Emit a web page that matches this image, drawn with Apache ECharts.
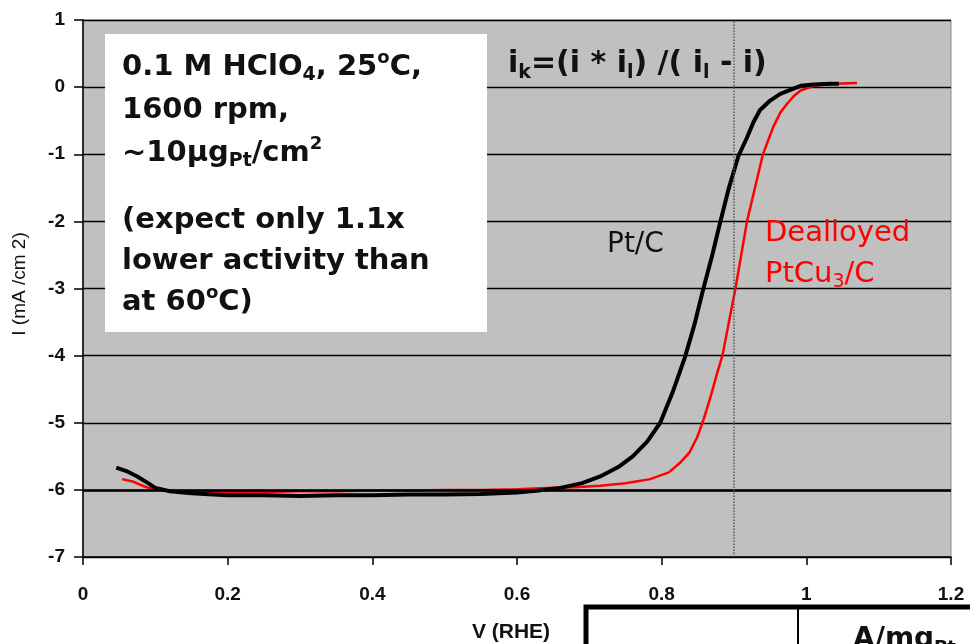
<!DOCTYPE html>
<html><head><meta charset="utf-8">
<script src="https://cdn.jsdelivr.net/npm/echarts@6/dist/echarts.min.js"></script>
<style>html,body{margin:0;padding:0;background:#fff}#c{width:970px;height:644px}</style>
</head><body><div id="c"></div>
<script>
// ---- data ----
const xTicks = [0, 0.2, 0.4, 0.6, 0.8, 1, 1.2];
const yTicks = [1, 0, -1, -2, -3, -4, -5, -6, -7];
const seriesNames = ['Pt/C', 'Dealloyed PtCu3/C'];
// Pt/C (black)
const ptcV = [0.046,0.06,0.075,0.09,0.10,0.12,0.15,0.18,0.2,0.25,0.3,0.35,0.4,0.45,0.5,0.55,0.6,0.63,0.66,0.69,0.715,0.74,0.76,0.78,0.798,0.815,0.832,0.845,0.857,0.87,0.881,0.893,0.906,0.918,0.927,0.936,0.95,0.964,0.978,0.992,1.01,1.033,1.045];
const ptcI = [-5.67,-5.72,-5.8,-5.9,-5.97,-6.02,-6.05,-6.07,-6.08,-6.08,-6.09,-6.08,-6.08,-6.07,-6.07,-6.06,-6.04,-6.01,-5.97,-5.9,-5.8,-5.66,-5.5,-5.28,-5.0,-4.55,-4.03,-3.55,-3.03,-2.5,-2.01,-1.5,-1.03,-0.75,-0.52,-0.34,-0.2,-0.1,-0.04,0.02,0.04,0.05,0.05];
// Dealloyed PtCu3/C (red)
const cuV = [0.054,0.07,0.085,0.1,0.13,0.16,0.2,0.25,0.3,0.35,0.4,0.45,0.5,0.55,0.6,0.65,0.68,0.715,0.75,0.784,0.81,0.825,0.838,0.849,0.858,0.868,0.877,0.884,0.893,0.902,0.91,0.918,0.929,0.94,0.954,0.964,0.974,0.984,0.992,1.01,1.04,1.07];
const cuI = [-5.84,-5.88,-5.95,-6.0,-6.02,-6.03,-6.04,-6.03,-6.02,-6.02,-6.01,-6.01,-6.0,-6.0,-5.99,-5.97,-5.96,-5.94,-5.9,-5.84,-5.74,-5.6,-5.45,-5.22,-4.95,-4.6,-4.25,-4.0,-3.5,-3.0,-2.5,-2.0,-1.5,-1.0,-0.6,-0.38,-0.24,-0.12,-0.05,0.02,0.05,0.06];
const refV = 0.9;
const limitI = -6;

// ---- helpers ----
const mctx = document.createElement('canvas').getContext('2d');
function runLine(x, y, parts, family, weight, color) {
  const els = [];
  let cx = x;
  parts.forEach(p => {
    const size = p[1], dy = p[2] || 0;
    const font = weight + ' ' + size + 'px "' + family + '"';
    mctx.font = font;
    els.push({type: 'text', x: cx, y: y + dy, z: 110,
      style: {text: p[0], font: font, fill: color, textAlign: 'left', textVerticalAlign: 'middle', verticalAlign: 'middle'}});
    cx += mctx.measureText(p[0]).width;
  });
  return els;
}
const BF = 'DejaVu Sans';
const graphics = [
  {type: 'rect', z: 100, shape: {x: 105, y: 34, width: 382, height: 298}, style: {fill: '#fff'}},
  ...runLine(122, 67, [['0.1 M HClO', 29], ['4', 19, 8], [', 25', 29], ['o', 18, -9], ['C,', 29]], BF, 'bold', '#111'),
  ...runLine(122, 110, [['1600 rpm,', 29]], BF, 'bold', '#111'),
  ...runLine(122, 153, [['~10\u00b5g', 29], ['Pt', 19, 8], ['/cm', 29], ['2', 18, -9]], BF, 'bold', '#111'),
  ...runLine(122, 220, [['(expect only 1.1x', 29]], BF, 'bold', '#111'),
  ...runLine(122, 261, [['lower activity than', 29]], BF, 'bold', '#111'),
  ...runLine(122, 302, [['at 60', 29], ['o', 18, -9], ['C)', 29]], BF, 'bold', '#111'),
  ...runLine(508, 64, [['i', 30], ['k', 19, 9], ['=(i * i', 30], ['l', 19, 9], [') /( i', 30], ['l', 19, 9], [' - i)', 30]], BF, 'bold', '#111'),
  ...runLine(607, 245, [['Pt/C', 28]], BF, 'normal', '#111'),
  ...runLine(765, 233, [['Dealloyed', 29]], BF, 'normal', '#ff0000'),
  ...runLine(765, 274, [['PtCu', 29], ['3', 19, 8], ['/C', 29]], BF, 'normal', '#ff0000'),
  {type: 'text', z: 110, x: 511, y: 632, style: {text: 'V (RHE)', font: 'bold 21px "Liberation Sans"', fill: '#111', textAlign: 'center', textVerticalAlign: 'middle', verticalAlign: 'middle', align: 'center'}},
  {type: 'text', z: 110, x: 20, y: 284, rotation: Math.PI / 2, style: {text: 'I (mA /cm 2)', font: '19px "Liberation Sans"', fill: '#111', textAlign: 'center', textVerticalAlign: 'middle', verticalAlign: 'middle', align: 'center'}},
  {type: 'rect', z: 100, shape: {x: 586, y: 607, width: 420, height: 100}, style: {fill: '#fff', stroke: '#000', lineWidth: 5}},
  {type: 'line', z: 101, shape: {x1: 798, y1: 607, x2: 798, y2: 650}, style: {stroke: '#000', lineWidth: 2}},
  ...runLine(853, 640, [['A/mg', 28], ['Pt', 18, 8]], BF, 'bold', '#111')
];

const chart = echarts.init(document.getElementById('c'), null, {renderer: 'canvas'});
chart.setOption({
  animation: false,
  backgroundColor: '#fff',
  grid: {left: 83, right: 19, top: 20, bottom: 87, show: true, backgroundColor: '#c0c0c0', borderColor: '#8a8a8a', borderWidth: 1},
  xAxis: {
    type: 'value', min: xTicks[0], max: xTicks[xTicks.length - 1], interval: 0.2,
    axisLine: {show: true, onZero: false, lineStyle: {color: '#000', width: 1.5}},
    axisTick: {show: true, length: 8, lineStyle: {color: '#000', width: 1.5}},
    splitLine: {show: false},
    axisLabel: {margin: 28, fontFamily: 'Liberation Sans', fontWeight: 'bold', fontSize: 19, color: '#111',
      formatter: v => String(+v.toFixed(1))}
  },
  yAxis: {
    type: 'value', min: yTicks[yTicks.length - 1], max: yTicks[0], interval: 1,
    axisLine: {show: true, onZero: false, lineStyle: {color: '#000', width: 1.5}},
    axisTick: {show: true, length: 9, lineStyle: {color: '#000', width: 1.5}},
    splitLine: {show: true, lineStyle: {color: '#000', width: 1.3}},
    axisLabel: {margin: 18, fontFamily: 'Liberation Sans', fontWeight: 'bold', fontSize: 19, color: '#111'}
  },
  series: [
    {
      name: seriesNames[1], type: 'line', showSymbol: false, z: 3,
      data: cuV.map((v, i) => [v, cuI[i]]),
      lineStyle: {color: '#ff0000', width: 2.5},
      markLine: {silent: true, symbol: 'none', label: {show: false},
        data: [
          {yAxis: limitI, lineStyle: {color: '#000', width: 2.6, type: 'solid'}},
          {xAxis: refV, lineStyle: {color: '#555', width: 1.5, type: 'dotted'}}
        ]}
    },
    {
      name: seriesNames[0], type: 'line', showSymbol: false, z: 4,
      data: ptcV.map((v, i) => [v, ptcI[i]]),
      lineStyle: {color: '#000', width: 4}
    }
  ],
  graphic: graphics
});
</script>
</body></html>
